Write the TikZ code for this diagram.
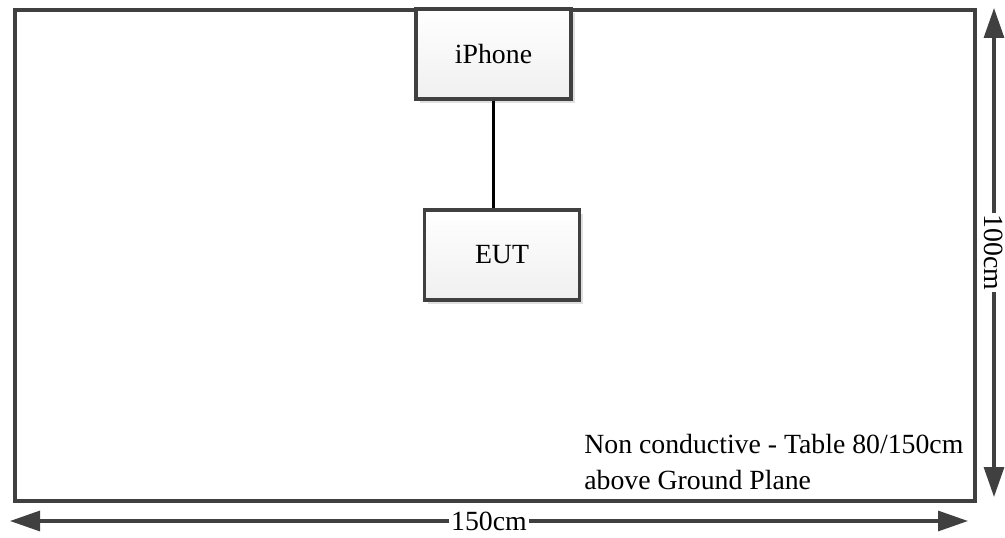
\documentclass[tikz,border=0pt]{standalone}
\usepackage{fontspec}
\setmainfont{Liberation Serif}
\usetikzlibrary{arrows.meta,shadows}
\definecolor{edgegray}{HTML}{404040}
\begin{document}
\begin{tikzpicture}[
    font=\fontsize{15.8}{21}\selectfont,
    frame/.style={draw=edgegray,line width=1.8pt},
    device/.style={draw=edgegray,line width=1.9pt,minimum width=3.1cm,minimum height=1.8cm,
                   top color=white,bottom color=gray!12,
                   drop shadow={shadow xshift=2pt,shadow yshift=-2pt,opacity=0.25}},
    link/.style={draw=black,line width=1.9pt},
    dim/.style={draw=edgegray,line width=1.8pt,{Triangle[length=0.6cm,width=0.4cm]}-{Triangle[length=0.6cm,width=0.4cm]}},
    dimlabel/.style={fill=white,inner sep=1pt}]
    \useasboundingbox (0,0) rectangle (20.1,10.74);
    \draw[frame] (0.3,0.72) rectangle (19.5,10.54);
    \node[device] (iphone) at (9.87,9.66) {iPhone};
    \node[device] (eut) at (10.04,5.64) {EUT};
    \draw[link] (iphone.south) -- (iphone.south |- eut.north);
    \node[anchor=west,align=left,inner sep=0pt] (note) at (11.68,1.5) {Non conductive - Table 80/150cm\\above Ground Plane};
    \coordinate (wl) at (0.2,0.32);
    \coordinate (wr) at (19.36,0.32);
    \draw[dim] (wl) -- (wr) node[midway,dimlabel] (width) {150cm};
    \coordinate (hb) at (19.88,0.8);
    \coordinate (ht) at (19.88,10.58);
    \draw[dim] (hb) -- (ht) node[midway,dimlabel,rotate=-90] (height) {100cm};
\end{tikzpicture}
\end{document}
